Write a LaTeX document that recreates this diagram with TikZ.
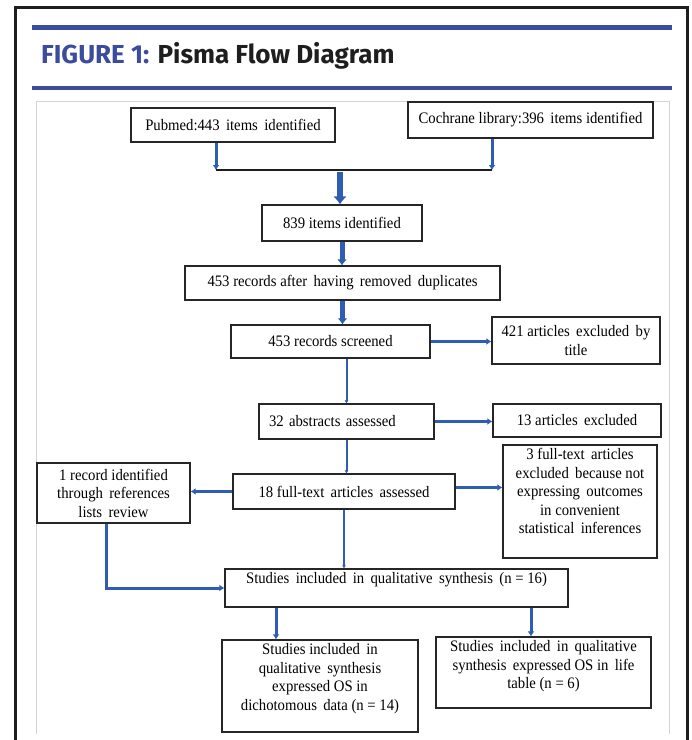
\documentclass[tikz,border=0pt]{standalone}
\usepackage{fontspec}
\usepackage{xcolor}
\usepackage{tikz}
\usetikzlibrary{positioning,arrows.meta,calc}
\newfontfamily\boxfont[FakeStretch=0.92]{Liberation Serif}
\newfontfamily\titlefont{Fira Sans}
\definecolor{titleblue}{HTML}{3C4C9C}
\definecolor{flowblue}{HTML}{2E5DB3}
\definecolor{framegray}{HTML}{D4D4D4}
\definecolor{inkblack}{HTML}{1E1E1E}

\begin{document}
\begin{tikzpicture}[
  x=1pt, y=-1pt,
  every node/.style={font=\boxfont\fontsize{16}{18.5}\selectfont},
  stepbox/.style={
    draw=black!85, line width=1.3, fill=white, align=center,
    inner sep=2pt,
  },
  toptext/.style={align=center, anchor=north, inner sep=4pt},
  flow/.style={-{Latex[length=5pt,width=7pt]}, line width=3, draw=flowblue},
  thinflow/.style={-{Latex[length=3pt,width=4pt]}, line width=2, draw=flowblue},
  midflow/.style={-{Latex[length=6pt,width=10pt]}, line width=5, draw=flowblue},
  bigflow/.style={-{Latex[length=8pt,width=14pt]}, line width=6.5, draw=flowblue},
  joinline/.style={line width=2, draw=inkblack},
]
  \useasboundingbox (0,0) rectangle (692,740);

  % frame and heading
  \draw[line width=3, draw=inkblack] (15,740) -- (15,7) -- (687,7) -- (687,740);
  \draw[line width=5, draw=titleblue] (32,27) -- (672,27);
  \draw[line width=3.5, draw=titleblue] (32,88) -- (672,88);
  \draw[line width=1, draw=framegray] (36,734) -- (36,101) -- (669,101) -- (669,734);
  \node[anchor=base west, inner sep=0, text=inkblack,
        font=\titlefont\bfseries\fontsize{26}{30}\selectfont] (title) at (41,63)
        {\textcolor{titleblue}{FIGURE 1:} Pisma Flow Diagram};

  % identification
  \node[stepbox, minimum width=204, minimum height=34] (pubmed)   at (233,125)   {Pubmed:443\, items\, identified};
  \node[stepbox, minimum width=245, minimum height=36] (cochrane) at (530.5,120) {Cochrane library:396\, items identified};
  \coordinate (jl) at (216,170);
  \coordinate (jr) at (492,170);
  \coordinate (jm) at (340,172);
  \node[stepbox, minimum width=160, minimum height=36] (total)    at (342,223)   {839 items identified};
  \node[stepbox, minimum width=315, minimum height=34] (dedup)    at (342.5,283) {453 records after\, having\, removed\, duplicates};

  % screening
  \node[stepbox, minimum width=199, minimum height=33] (screened)  at (330.5,341.5) {453 records screened};
  \node[stepbox, minimum width=168, minimum height=47] (extitle)   at (576,340.5)   {421 articles\, excluded\, by\\title};
  \node[stepbox, minimum width=175, minimum height=35, align=left,
        text width=155, inner xsep=9] (abstracts) at (346.5,421.5) {32 abstracts assessed};
  \node[stepbox, minimum width=168, minimum height=33] (exabs)     at (577,420.5)   {13 articles\, excluded};

  % eligibility
  \node[stepbox, minimum width=222, minimum height=35] (fulltext) at (344,491.5) {18 full-text\, articles\, assessed};
  \node[stepbox, minimum width=153, minimum height=60] (refs)     at (113.5,493) {1 record identified\\through\, references\\lists\, review};
  \node[stepbox, minimum width=154, minimum height=113,
        label={[toptext]north:{3 full-text\, articles\\excluded\, because not\\expressing\, outcomes\\in convenient\\statistical\, inferences}}]
        (exfull) at (580,501.5) {};

  % included
  \node[stepbox, minimum width=343, minimum height=38,
        label={[toptext]north:{Studies\, included\, in\, qualitative\, synthesis\, (n = 16)}}]
        (qual) at (396.5,588) {};
  \node[stepbox, minimum width=196, minimum height=92,
        label={[toptext]north:{Studies included\, in\\qualitative\, synthesis\\expressed OS in\\dichotomous\, data (n = 14)}}]
        (dicho) at (320,686) {};
  \node[stepbox, minimum width=215, minimum height=71,
        label={[toptext]north:{Studies\, included\, in\, qualitative\\synthesis\, expressed OS in\, life\\table (n = 6)}}]
        (life) at (543.5,672.5) {};

  % connectors
  \draw[flow] (pubmed.south -| jl) -- (jl);
  \draw[flow] (cochrane.south -| jr) -- (jr);
  \draw[joinline] (jl) -- (jr);
  \draw[bigflow] (jm) -- (total.north -| jm);
  \draw[midflow] (total.south) -- (dedup.north -| total.south);
  \draw[midflow] (dedup.south) -- (screened.north -| dedup.south);
  \draw[flow] (screened.east) -- (extitle.west |- screened.east);
  \draw[thinflow] (screened.south -| abstracts.north) -- (abstracts.north);
  \draw[flow] (abstracts.east) -- (exabs.west |- abstracts.east);
  \draw[thinflow] (abstracts.south) -- (fulltext.north -| abstracts.south);
  \draw[flow] (fulltext.west) -- (refs.east |- fulltext.west);
  \draw[flow] ([yshift=4]fulltext.east) -- ([yshift=4]exfull.west |- fulltext.east);
  \draw[thinflow] (fulltext.south) -- (qual.north -| fulltext.south);
  \draw[flow] ([xshift=-7.5]refs.south) |- (qual.west);
  \draw[flow] ([xshift=-120.5]qual.south) -- ([xshift=-44]dicho.north);
  \draw[flow] ([xshift=134.5]qual.south) -- ([xshift=-12.5]life.north);
\end{tikzpicture}
\end{document}
